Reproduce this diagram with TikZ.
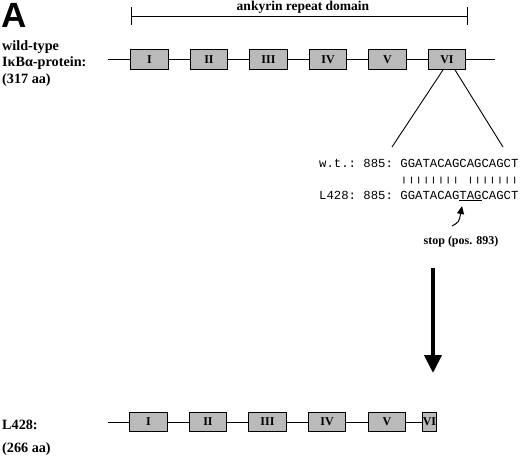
\documentclass[tikz,border=0pt]{standalone}
\usepackage{fontspec}
\setmainfont{Liberation Serif}
\setmonofont{Liberation Mono}
\setsansfont{Liberation Sans}
\usetikzlibrary{arrows.meta}
\begin{document}
\begin{tikzpicture}[x=1pt,y=-1pt,
  dom/.style={draw=black,line width=1.3pt,fill=black!27,minimum width=37.5pt,minimum height=19.5pt,inner sep=0pt,font=\bfseries\fontsize{12}{12}\selectfont},
  lbl/.style={anchor=base west,inner sep=0pt,font=\bfseries\fontsize{14.2}{15}\selectfont},
  seq/.style={anchor=base west,inner sep=0pt,font=\ttfamily\fontsize{12.3}{14}\selectfont},
  link/.style={line width=0.9pt},
]
\useasboundingbox (0,0) rectangle (520,472);
% panel letter
\node[anchor=base west,inner sep=0pt,font=\sffamily\bfseries\fontsize{35}{38}\selectfont] (A) at (1,27.5) {A};
% ankyrin bracket
\coordinate (bl) at (131,16.5);
\coordinate (br) at (467,16.5);
\draw[link] (bl) -- (br);
\draw[link] ([yshift=-8.5pt]bl) -- ([yshift=9.5pt]bl);
\draw[link] ([yshift=-8.5pt]br) -- ([yshift=9.5pt]br);
\node[inner sep=0pt,anchor=base,font=\bfseries\fontsize{13.5}{15}\selectfont] (ank) at (303,10.5) {ankyrin repeat domain};
% left labels
\node[lbl] (wt1) at (2,50) {wild-type};
\node[lbl] (wt2) at (2,66) {IκBα-protein:};
\node[lbl] (wt3) at (2,83) {(317 aa)};
% wild-type protein
\coordinate (t0) at (108,59.5);
\coordinate (t7) at (495,59.5);
\node[dom] (t1) at (149.5,59.5) {I};
\node[dom] (t2) at (209,59.5) {II};
\node[dom] (t3) at (268.5,59.5) {III};
\node[dom] (t4) at (328,59.5) {IV};
\node[dom] (t5) at (387.5,59.5) {V};
\node[dom] (t6) at (447,59.5) {VI};
\draw[link] (t0) -- (t1.west);
\draw[link] (t1.east) -- (t2.west);
\draw[link] (t2.east) -- (t3.west);
\draw[link] (t3.east) -- (t4.west);
\draw[link] (t4.east) -- (t5.west);
\draw[link] (t5.east) -- (t6.west);
\draw[link] (t6.east) -- (t7);
% zoom lines
\coordinate (zl) at (392,147);
\coordinate (zr) at (503,147);
\draw[link] ([xshift=-4pt]t6.south) -- (zl);
\draw[link] ([xshift=8pt]t6.south) -- (zr);
% sequences
\node[seq] (s1) at (319,167) {w.t.: 885: GGATACAGCAGCAGCT};
\node[seq] (s2) at (400.2,182.5) {\scalebox{1}[0.6]{|||||||| |||||||}};
\node[seq] (s3) at (319,199) {L428: 885: GGATACAG\underline{TAG}CAGCT};
% stop arrow
\coordinate (ct) at (452,226);
\coordinate (ch) at (462,206);
\draw[line width=1pt,-{Triangle[length=8pt,width=7pt]}] (ct) .. controls (459,222) .. (ch);
\node[inner sep=0pt,font=\bfseries\fontsize{12}{14}\selectfont] (stop) at (461,242) {stop (pos. 893)};
% big arrow
\coordinate (bt) at (433,268);
\coordinate (bh) at (433,373);
\draw[line width=4pt,-{Triangle[length=18pt,width=17pt]}] (bt) -- (bh);
% mutant protein
\node[lbl] (m1) at (2,429) {L428:};
\node[lbl] (m2) at (2,452) {(266 aa)};
\coordinate (b0) at (108,422);
\node[dom] (b1) at (148.5,422) {I};
\node[dom] (b2) at (208,422) {II};
\node[dom] (b3) at (267.5,422) {III};
\node[dom] (b4) at (327,422) {IV};
\node[dom] (b5) at (387,422) {V};
\node[dom,minimum width=13pt] (b6) at (429.5,422) {VI};
\draw[link] (b0) -- (b1.west);
\draw[link] (b1.east) -- (b2.west);
\draw[link] (b2.east) -- (b3.west);
\draw[link] (b3.east) -- (b4.west);
\draw[link] (b4.east) -- (b5.west);
\draw[link] (b5.east) -- (b6.west);
\end{tikzpicture}
\end{document}
